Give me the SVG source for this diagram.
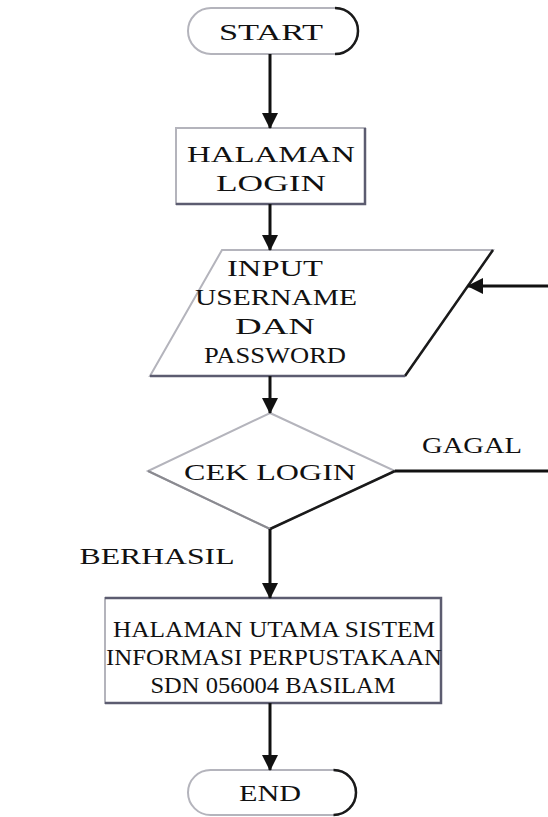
<svg xmlns="http://www.w3.org/2000/svg" width="548" height="817" viewBox="0 0 548 817">
<defs>
<marker id="ah" markerUnits="userSpaceOnUse" markerWidth="16" markerHeight="18" refX="15" refY="8" orient="auto">
<path d="M0,0 L16,8 L0,16 Z" fill="#111"/>
</marker>
<style>
.t{font-family:"Liberation Serif","Times New Roman",serif;font-size:24px;fill:#111;text-anchor:middle}
.lite{fill:#fff;stroke:#b4b4bc;stroke-width:2}
.dark{fill:none;stroke:#5c5c70;stroke-width:2.5}
.blk{fill:none;stroke:#1a1a1a;stroke-width:2.5}
.c{fill:none;stroke:#111;stroke-width:3}
</style>
</defs>
<rect width="548" height="817" fill="#fff"/>
<g id="start">
<rect class="lite" x="188" y="8" width="170" height="46" rx="23"/>
<path class="blk" d="M335,8 A23,23 0 0 1 335,54"/>
<text class="t" x="271" y="40" textLength="104" lengthAdjust="spacingAndGlyphs">START</text>
</g>
<g id="login">
<rect class="lite" x="176" y="128" width="189" height="76"/>
<path class="dark" d="M365,128 V204 H176"/>
<text class="t" x="271" y="162" textLength="168" lengthAdjust="spacingAndGlyphs">HALAMAN</text>
<text class="t" x="271" y="191" textLength="110" lengthAdjust="spacingAndGlyphs">LOGIN</text>
</g>
<g id="input">
<polygon class="lite" points="222,250 493,250 405,376 150,376"/>
<path class="blk" d="M493,250 L405,376"/>
<path class="dark" d="M405,376 H150"/>
<text class="t" x="275" y="276" textLength="96" lengthAdjust="spacingAndGlyphs">INPUT</text>
<text class="t" x="276" y="305" textLength="162" lengthAdjust="spacingAndGlyphs">USERNAME</text>
<text class="t" x="275" y="334" textLength="80" lengthAdjust="spacingAndGlyphs">DAN</text>
<text class="t" x="275" y="363" textLength="142" lengthAdjust="spacingAndGlyphs">PASSWORD</text>
</g>
<g id="cek">
<polygon class="lite" points="270,413 395,471 270,529 148,471"/>
<path class="blk" d="M395,471 L270,529"/>
<path d="M270,529 L148,471" style="fill:none;stroke:#8a8a90;stroke-width:2"/>
<text class="t" x="270" y="480" textLength="172" lengthAdjust="spacingAndGlyphs">CEK LOGIN</text>
</g>
<g id="utama">
<rect class="lite" x="105" y="598" width="336" height="105"/>
<path class="dark" d="M105,598 H441 V703 H105"/>
<text class="t" x="274" y="637" textLength="322" lengthAdjust="spacingAndGlyphs">HALAMAN UTAMA SISTEM</text>
<text class="t" x="274" y="665" textLength="336" lengthAdjust="spacingAndGlyphs">INFORMASI PERPUSTAKAAN</text>
<text class="t" x="273" y="693" textLength="245" lengthAdjust="spacingAndGlyphs">SDN 056004 BASILAM</text>
</g>
<g id="end">
<rect class="lite" x="188" y="770" width="168" height="45" rx="22.5"/>
<path class="blk" d="M333.5,770 A22.5,22.5 0 0 1 333.5,815"/>
<text class="t" x="270" y="801" textLength="62" lengthAdjust="spacingAndGlyphs">END</text>
</g>
<g id="connectors">
<line class="c" x1="270" y1="54" x2="270" y2="128" marker-end="url(#ah)"/>
<line class="c" x1="270" y1="204" x2="270" y2="250" marker-end="url(#ah)"/>
<line class="c" x1="270" y1="376" x2="270" y2="413" marker-end="url(#ah)"/>
<line class="c" x1="270" y1="529" x2="270" y2="598" marker-end="url(#ah)"/>
<line class="c" x1="270" y1="703" x2="270" y2="770" marker-end="url(#ah)"/>
<path class="c" d="M395,471 H570 V286 H468" marker-end="url(#ah)"/>
<text class="t" x="472" y="453" textLength="100" lengthAdjust="spacingAndGlyphs">GAGAL</text>
<text class="t" x="157" y="564" textLength="155" lengthAdjust="spacingAndGlyphs">BERHASIL</text>
</g>
</svg>
